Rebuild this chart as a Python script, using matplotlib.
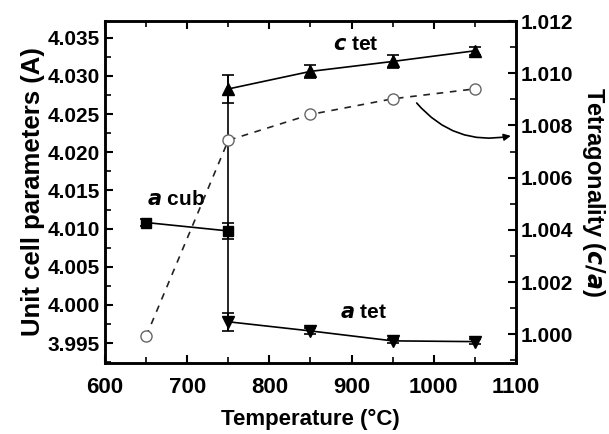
import matplotlib
matplotlib.use("Agg")
import matplotlib.pyplot as plt
from matplotlib.ticker import MultipleLocator

plt.rcParams["font.family"] = ["Liberation Sans", "DejaVu Sans"]
plt.rcParams["font.weight"] = "bold"

# lattice parameters (A) vs temperature (C)
t_ctet = [750, 850, 950, 1050]
c_tet = [4.0283, 4.0306, 4.0319, 4.0333]
c_tet_err = [0.0018, 0.0009, 0.0008, 0.0005]

t_acub = [650, 750]
a_cub = [4.0108, 4.0097]
a_cub_err = [0.0005, 0.0010]

t_atet = [750, 850, 950, 1050]
a_tet = [3.9978, 3.9966, 3.9953, 3.9952]
a_tet_err = [0.0012, 0.0004, 0.0003, 0.0003]

# tetragonality c/a
t_ca = [650, 750, 850, 950, 1050]
ca = [0.99992, 1.00743, 1.00842, 1.00902, 1.0094]


def main():
    fig = plt.figure(figsize=(6.09, 4.34), dpi=100)
    ax1 = fig.add_axes([0.1724, 0.1636, 0.6749, 0.788])
    ax2 = ax1.twinx()

    ekw = dict(color="black", lw=1.2, capsize=4, capthick=1.2, elinewidth=1.2)
    ax1.vlines(t_ctet[0], a_tet[0] - a_tet_err[0], c_tet[0] + c_tet_err[0],
               color="black", lw=1.2)
    ax1.errorbar(t_ctet, c_tet, yerr=c_tet_err, marker="^", ms=8, **ekw)
    ax1.errorbar(t_acub, a_cub, yerr=a_cub_err, marker="s", ms=7, **ekw)
    ax1.errorbar(t_atet, a_tet, yerr=a_tet_err, marker="v", ms=8, **ekw)

    ax2.plot(t_ca, ca, ls=(0, (4, 4)), color="#222222", lw=1.2,
             marker="o", ms=8, mfc="white", mec="#666666", mew=1.0)

    ax1.set_xlim(600, 1100)
    ax1.set_ylim(3.9924, 4.0372)
    ax2.set_ylim(0.9989, 1.012)

    ax1.xaxis.set_major_locator(MultipleLocator(100))
    ax1.xaxis.set_minor_locator(MultipleLocator(50))
    ax1.yaxis.set_major_locator(MultipleLocator(0.005))
    ax1.yaxis.set_minor_locator(MultipleLocator(0.0025))
    ax2.yaxis.set_major_locator(MultipleLocator(0.002))
    ax2.yaxis.set_minor_locator(MultipleLocator(0.001))
    ax1.yaxis.set_major_formatter(plt.FormatStrFormatter("%.3f"))
    ax2.yaxis.set_major_formatter(plt.FormatStrFormatter("%.3f"))

    ax1.tick_params(axis="x", which="both", direction="in", top=True)
    ax1.tick_params(axis="x", which="major", length=6, width=1.5, labelsize=16, pad=10)
    ax1.tick_params(axis="x", which="minor", length=4, width=1.2)
    ax1.tick_params(axis="y", which="major", direction="in", length=6, width=1.5,
                    labelsize=15)
    ax1.tick_params(axis="y", which="minor", direction="in", length=4, width=1.2)
    ax2.tick_params(axis="y", which="major", direction="in", length=6, width=1.5,
                    labelsize=15)
    ax2.tick_params(axis="y", which="minor", direction="in", length=4, width=1.2)

    for ax in (ax1, ax2):
        for s in ax.spines.values():
            s.set_linewidth(1.8)

    ax1.set_xlabel("Temperature (°C)", fontsize=16, fontweight="bold", labelpad=8)
    ax1.set_ylabel("Unit cell parameters (A)", fontsize=18.5, fontweight="bold",
                   labelpad=2)
    ax2.set_ylabel(r"Tetragonality ($\it{c/a}$)", fontsize=17,
                   fontweight="bold", rotation=270, labelpad=24)

    ax1.text(877, 4.0341, r"$\mathbf{\it{c}}$ tet", fontsize=15, va="center")
    ax1.text(651, 4.0138, r"$\mathbf{\it{a}}$ cub", fontsize=15, va="center")
    ax1.text(886, 3.9990, r"$\mathbf{\it{a}}$ tet", fontsize=15, va="center")

    ax2.annotate("", xy=(1097, 1.00762), xytext=(977, 1.00894),
                 arrowprops=dict(arrowstyle="-|>", color="black", lw=1.2,
                                 connectionstyle="arc3,rad=0.3",
                                 mutation_scale=10))

    fig.savefig("out.png", dpi=100)
    plt.close(fig)


if __name__ == "__main__":
    main()
